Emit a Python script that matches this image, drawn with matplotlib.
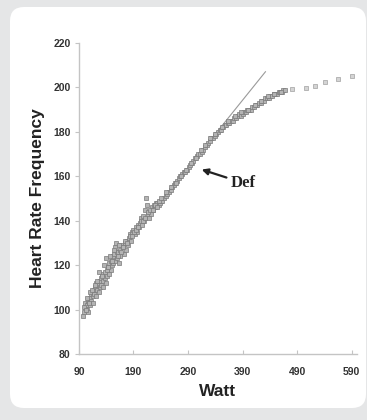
import matplotlib
matplotlib.use("Agg")
import matplotlib.pyplot as plt
from matplotlib.patches import FancyBboxPatch

# main exercise test samples (Watt, heart rate)
watt = [98, 100, 101, 102, 104, 105, 106, 107, 108, 110, 111, 112, 113, 115, 116, 117,
        118, 120, 121, 122, 124, 125, 126, 128, 129, 130, 131, 133, 134, 135, 137, 138,
        139, 141, 142, 144, 145, 146, 148, 149, 150, 152, 153, 155, 156, 157, 158, 159,
        160, 162, 163, 165, 166, 168, 170, 172, 174, 176, 178, 180, 182, 184, 186, 188,
        190, 192, 194, 196, 198, 200, 202, 204, 206, 208, 210, 212, 213, 215, 216, 218,
        220, 222, 224, 226, 228, 230, 232, 234, 236, 238, 240, 243, 246, 249, 252, 255,
        258, 261, 264, 267, 270, 273, 276, 279, 282, 285, 288, 291, 294, 297, 300, 303,
        306, 309, 312, 315, 318, 321, 324, 327, 330, 333, 336, 339, 342, 345, 348, 351,
        354, 357, 360, 363, 366, 369, 372, 375, 378, 381, 384, 387, 390, 393, 396, 399,
        402, 405, 408, 411, 414, 417, 420, 423, 426, 429, 432, 435, 438, 441, 444, 447,
        450, 453, 456, 459, 462, 465, 468,
        # extra overlapping samples
        99, 103, 105, 109, 111, 114, 119, 123, 127, 132, 136, 140, 143, 147, 151, 154,
        161, 164, 167, 171, 175, 179, 183, 187, 191, 195, 199, 203, 207, 211, 217, 221,
        225, 229, 233, 237, 241, 250, 259, 268, 277, 286, 295, 304, 313, 322, 331, 340,
        352, 364, 376, 388, 400, 412, 424, 436, 448, 460]
hr = [97, 99, 101, 103, 100, 102, 104, 99, 103, 105, 102, 107, 104, 106, 103, 109,
      107, 110, 106, 112, 109, 111, 108, 113, 110, 114, 111, 116, 113, 110, 117, 114,
      112, 118, 115, 119, 116, 121, 118, 122, 120, 124, 121, 125, 122, 128, 130, 126,
      123, 126, 121, 127, 124, 129, 128, 125, 130, 127, 131, 129, 132, 134, 131, 135,
      136, 134, 137, 135, 138, 137, 139, 141, 138, 142, 140, 145, 150, 147, 143, 141,
      144, 143, 146, 145, 147, 146, 148, 148, 147, 148, 149, 149, 150, 151, 152, 153,
      154, 155, 156, 157, 158, 159, 160, 161, 162, 162, 163, 164, 165, 166, 167, 168,
      169, 170, 170, 171, 172, 173, 174, 175, 176, 177, 177, 178, 179, 180, 181, 181,
      182, 183, 183, 184, 184, 185, 185, 186, 186, 187, 188, 187, 188, 189, 189, 190,
      190, 190, 191, 191, 192, 192, 193, 193, 194, 194, 195, 195, 195, 196, 196, 197,
      197, 197, 198, 198, 198, 199, 199,
      101, 100, 105, 103, 108, 109, 111, 113, 117, 115, 120, 123, 119, 124, 122, 127,
      124, 129, 126, 128, 131, 130, 133, 133, 135, 136, 137, 140, 140, 141, 144, 145,
      145, 147, 146, 149, 150, 153, 155, 157, 160, 163, 166, 168, 172, 174, 177, 179,
      182, 185, 187, 189, 190, 192, 194, 196, 197, 198]

# sparse samples past the deflection
tail_watt = [480, 507, 522, 542, 565, 591]
tail_hr = [199.2, 199.5, 200.7, 202.2, 203.7, 204.9]

# linear fit of the lower part
fit_watt = [150, 432]
fit_hr = [121, 207]

x_ticks = [90, 190, 290, 390, 490, 590]
y_ticks = [80, 100, 120, 140, 160, 180, 200, 220]

fig = plt.figure(figsize=(3.67, 4.2), dpi=100)
fig.patch.set_facecolor("#e5e6e7")

bg = fig.add_axes([0, 0, 1, 1], zorder=0)
bg.set_xlim(0, 367)
bg.set_ylim(0, 420)
bg.axis("off")
bg.add_patch(FancyBboxPatch((24, 26), 328, 373,
                            boxstyle="round,pad=14",
                            facecolor="white", edgecolor="none"))

ax = fig.add_axes([0.215, 0.157, 0.758, 0.741], zorder=1)
ax.patch.set_alpha(0)

ax.plot(fit_watt, fit_hr, color="#9a9a9a", lw=0.8, zorder=2)
ax.plot(watt, hr, "s", ms=2.7, mfc="#b4b4b4", mec="#7a7a7a", mew=0.5, ls="none", zorder=3)
ax.plot(tail_watt, tail_hr, "s", ms=2.7, mfc="#d4d4d4", mec="#a0a0a0", mew=0.5, ls="none", zorder=3)

ax.annotate("Def", xy=(315, 163), xytext=(368, 157),
            fontsize=12, fontweight="bold", family="Liberation Serif",
            color="#222222", ha="left", va="center",
            arrowprops=dict(arrowstyle="-|>", color="#222222", lw=1.6,
                            mutation_scale=9, shrinkA=1, shrinkB=0))

ax.set_xlim(90, 600)
ax.set_ylim(80, 220)
ax.set_xticks(x_ticks)
ax.set_yticks(y_ticks)

for s in ["top", "right"]:
    ax.spines[s].set_visible(False)
for s in ["left", "bottom"]:
    ax.spines[s].set_color("#c4c4c4")
    ax.spines[s].set_linewidth(1.0)

ax.tick_params(axis="y", direction="out", length=3, color="#c4c4c4", pad=3)
ax.tick_params(axis="x", direction="in", length=3, color="#c4c4c4", pad=9)
for lab in ax.get_xticklabels() + ax.get_yticklabels():
    lab.set_fontfamily("Liberation Sans")
    lab.set_fontweight("bold")
    lab.set_fontsize(7.5)
    lab.set_color("#333333")

ax.set_xlabel("Watt", fontsize=12.5, fontweight="bold", family="Liberation Sans",
              color="#222222", labelpad=5)
ax.set_ylabel("Heart Rate Frequency", fontsize=12.5, fontweight="bold",
              family="Liberation Sans", color="#222222", labelpad=6)

fig.savefig("out.png", dpi=100, facecolor=fig.get_facecolor())
